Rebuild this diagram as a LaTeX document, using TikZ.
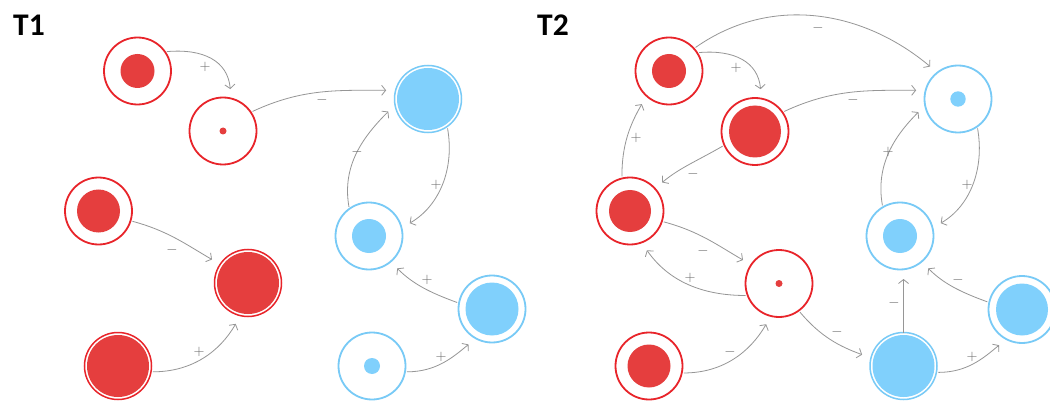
\documentclass[tikz,border=0pt]{standalone}
\usepackage{fontspec}
\usetikzlibrary{arrows.meta}
\newfontfamily\titlefont{Carlito}

\definecolor{ringred}{RGB}{232,36,42}
\definecolor{fillred}{RGB}{229,62,62}
\definecolor{ringblue}{RGB}{120,202,246}
\definecolor{fillblue}{RGB}{128,208,252}
\definecolor{linkgray}{RGB}{150,150,150}
\definecolor{signgray}{RGB}{105,105,105}

\tikzset{
  cell/.style={circle, minimum size=67pt, inner sep=0pt, outer sep=0pt, line width=1.8pt},
  red cell/.style={cell, draw=ringred,
    path picture={\fill[fillred] (path picture bounding box.center) circle (#1);}},
  blue cell/.style={cell, draw=ringblue,
    path picture={\fill[fillblue] (path picture bounding box.center) circle (#1);}},
  red full/.style={red cell=31pt, line width=1.5pt},
  blue full/.style={blue cell=31pt, line width=1.5pt},
  link/.style={draw=linkgray, line width=0.8pt, shorten <=2pt, shorten >=9.5pt,
    -{Straight Barb[length=4pt,width=10pt,line width=0.8pt]}},
  sign/.style={text=signgray, inner sep=0pt, font=\fontsize{14}{14}\selectfont},
  panel title/.style={anchor=base west, inner sep=0pt,
    font=\titlefont\bfseries\fontsize{31.5}{31.5}\selectfont}
}

\begin{document}
\begin{tikzpicture}[x=1pt, y=1pt]
\useasboundingbox (0,0) rectangle (1050,-401);
\fill[white] (0,0) rectangle (1050,-401);
\clip (0,0) rectangle (1050,-401);

% ---------------- panel T1 ----------------
\node[panel title] (t1) at (13,-36) {T1};

\node[red cell=17pt]   (a1)  at (137.5,-71)  {};
\node[red cell=3.5pt]  (b1)  at (223,-131)   {};
\node[blue full]       (bb1) at (428,-99)    {};
\node[blue cell=17pt]  (bm1) at (369,-236)   {};
\node[red cell=21.5pt] (c1)  at (98.5,-211)  {};
\node[red full]        (d1)  at (248,-283)   {};
\node[red full]        (e1)  at (118,-366)   {};
\node[blue cell=26.5pt](f1)  at (492,-309)   {};
\node[blue cell=8pt]   (g1)  at (372,-366)   {};

\draw[link] (a1.35)  to[out=5,in=95,looseness=1.2] (b1.76);
\draw[link] (b1.34)  to[out=25,in=180]  (bb1.165);
\draw[link] (bb1.-55) to[out=-80,in=30] (bm1.14);
\draw[link] (bm1.126) to[out=100,in=225] (bb1.190);
\draw[link] (c1.-17) to[out=-15,in=150] (d1.146);
\draw[link] (e1.-10) to[out=0,in=240]   (d1.257);
\draw[link] (f1.170) to[out=160,in=-45] (bm1.-50);
\draw[link] (g1.-10) to[out=0,in=220]   (f1.241);

\node[sign] (s1) at (205,-67)  {$+$};
\node[sign] (s2) at (322,-100) {$-$};
\node[sign] (s3) at (436,-185) {$+$};
\node[sign] (s4) at (357,-152) {$-$};
\node[sign] (s5) at (172,-250) {$-$};
\node[sign] (s6) at (199,-352) {$+$};
\node[sign] (s7) at (427,-280) {$+$};
\node[sign] (s8) at (441,-357) {$+$};

% ---------------- panel T2 ----------------
\node[panel title] (t2) at (537,-36) {T2};

\node[red cell=17pt]   (a2) at (669,-71)     {};
\node[red cell=26pt]   (b2) at (755,-131.5)  {};
\node[red cell=21pt]   (c2) at (630,-211)    {};
\node[red cell=3.5pt]  (d2) at (779,-283.5)  {};
\node[red cell=21.5pt] (e2) at (649,-366)    {};
\node[blue cell=7.7pt] (h2) at (958,-99)     {};
\node[blue cell=17pt]  (i2) at (900,-236)    {};
\node[blue cell=26pt]  (f2) at (1022,-309.5) {};
\node[blue full]       (j2) at (903.5,-366)  {};

\draw[link] (a2.42)  to[out=35,in=140]  (h2.128);
\draw[link] (a2.33)  to[out=5,in=95,looseness=1.2] (b2.79);
\draw[link] (b2.35)  to[out=25,in=180]  (h2.165);
\draw[link] (i2.121) to[out=100,in=225] (h2.191);
\draw[link] (h2.-55) to[out=-80,in=30]  (i2.14);
\draw[link] (b2.204) to[out=210,in=40]  (c2.42);
\draw[link] (c2.104) to[out=90,in=240]  (a2.228);
\draw[link] (c2.-18) to[out=-15,in=150] (d2.146);
\draw[link] (d2.201) to[out=180,in=-55] (c2.-70);
\draw[link] (e2.-12) to[out=0,in=240]   (d2.256);
\draw[link] (d2.-54) to[out=-50,in=160] (j2.166);
\draw[link, shorten <=0pt] (j2.north) -- (j2.north |- i2.south);
\draw[link] (f2.168) to[out=160,in=-45] (i2.-50);
\draw[link] (j2.-11) to[out=0,in=220]   (f2.242);

\node[sign] (u1)  at (818,-28)  {$-$};
\node[sign] (u2)  at (736,-68)  {$+$};
\node[sign] (u3)  at (853,-100) {$-$};
\node[sign] (u4)  at (888,-152) {$+$};
\node[sign] (u5)  at (967,-185) {$+$};
\node[sign] (u6)  at (693,-174) {$-$};
\node[sign] (u7)  at (636,-138) {$+$};
\node[sign] (u8)  at (703,-251) {$-$};
\node[sign] (u9)  at (690,-278) {$+$};
\node[sign] (u10) at (730,-352) {$-$};
\node[sign] (u11) at (837,-332) {$-$};
\node[sign] (u12) at (894,-303) {$-$};
\node[sign] (u13) at (958,-280) {$-$};
\node[sign] (u14) at (972,-357) {$+$};
\end{tikzpicture}
\end{document}
